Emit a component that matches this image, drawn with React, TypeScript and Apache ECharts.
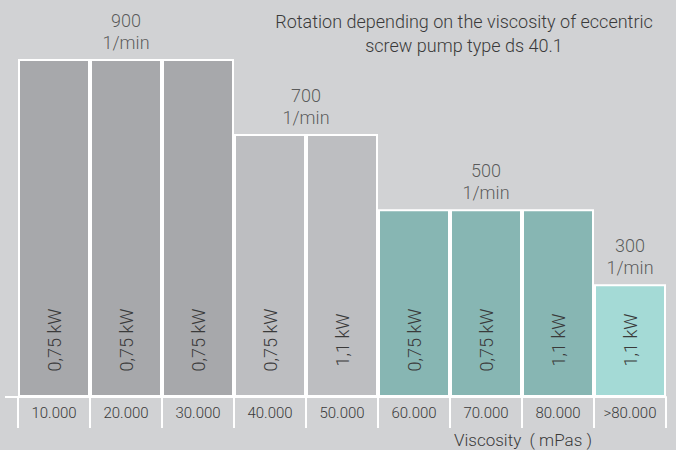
import React, { useEffect, useRef } from "react";
import * as echarts from "echarts";

const categories = ["10.000", "20.000", "30.000", "40.000", "50.000", "60.000", "70.000", "80.000", ">80.000"];
const rotation = [900, 900, 900, 700, 700, 500, 500, 500, 300];
const power = ["0,75 kW", "0,75 kW", "0,75 kW", "0,75 kW", "1,1 kW", "0,75 kW", "0,75 kW", "1,1 kW", "1,1 kW"];
const groupSpeeds = [900, 700, 500, 300];
const groupFirst = [0, 3, 5, 8];
const groupLast = [2, 4, 7, 8];

const titleText = "Rotation depending on the viscosity of eccentric\nscrew pump type ds 40.1";
const axisName = "Viscosity  ( mPas )";

const colorBySpeed: Record<number, string> = {
  900: "#a7a8ab",
  700: "#bdbec1",
  500: "#87b6b3",
  300: "#a4dad6",
};

const FONT = "Roboto";
const WEIGHT = 300;
const TEXT = "#3a3a3a";

export default function App() {
  const ref = useRef<HTMLDivElement>(null);
  useEffect(() => {
    document.body.style.margin = "0";
    const chart = echarts.init(ref.current!, undefined, { renderer: "svg" });
    const groupData = groupSpeeds.map((s, i) => [(groupFirst[i] + groupLast[i] + 1) / 2, s]);
    chart.setOption({
      animation: false,
      backgroundColor: "#d1d2d4",
      textStyle: { fontFamily: FONT, fontWeight: WEIGHT },
      title: [
        {
          text: titleText,
          left: 464,
          top: 9,
          padding: 0,
          textAlign: "center",
          textStyle: { fontFamily: FONT, fontSize: 18, fontWeight: WEIGHT, color: TEXT, lineHeight: 24, align: "center" },
        },
        {
          text: axisName,
          left: 523,
          top: 430,
          padding: 0,
          textAlign: "center",
          textStyle: { fontFamily: FONT, fontSize: 17, fontWeight: WEIGHT, color: TEXT, lineHeight: 20 },
        },
      ],
      grid: { left: 18, right: 10, top: 59, bottom: 53 },
      xAxis: [
        {
          type: "category",
          data: categories,
          boundaryGap: true,
          axisLine: { show: true, lineStyle: { color: "#ffffff", width: 2 } },
          axisTick: { show: true, interval: 0, length: 31, lineStyle: { color: "#ffffff", width: 2 } },
          axisLabel: { interval: 0, margin: 8, fontSize: 15, color: TEXT, fontFamily: FONT, fontWeight: WEIGHT },
          splitLine: { show: false },
          z: 5,
        },
        {
          type: "value",
          min: 0,
          max: categories.length,
          show: false,
        },
      ],
      yAxis: {
        type: "value",
        min: 0,
        max: 900,
        show: false,
        splitLine: { show: false },
      },
      graphic: [
        {
          type: "line",
          shape: { x1: 5, y1: 397, x2: 19, y2: 397 },
          style: { stroke: "#ffffff", lineWidth: 2 },
          z: 10,
        },
      ],
      series: [
        {
          type: "bar",
          xAxisIndex: 0,
          yAxisIndex: 0,
          barWidth: "100%",
          barCategoryGap: 0,
          data: rotation.map((v) => ({ value: v, itemStyle: { color: colorBySpeed[v] } })),
          itemStyle: { borderColor: "#ffffff", borderWidth: 2 },
          label: {
            show: true,
            position: "insideBottom",
            distance: 57,
            rotate: 90,
            align: "center",
            verticalAlign: "middle",
            fontSize: 18,
            color: TEXT,
            fontFamily: FONT,
            fontWeight: WEIGHT,
            formatter: (p: any) => power[p.dataIndex],
          },
        },
        {
          type: "scatter",
          xAxisIndex: 1,
          yAxisIndex: 0,
          symbolSize: 0,
          clip: false,
          data: groupData,
          label: {
            show: true,
            position: "top",
            distance: 6,
            fontSize: 18,
            lineHeight: 22,
            align: "center",
            color: TEXT,
            fontFamily: FONT,
            fontWeight: WEIGHT,
            formatter: (p: any) => `${p.value[1]}\n1/min`,
          },
        },
      ],
    });
    return () => chart.dispose();
  }, []);
  return <div ref={ref} style={{ position: "absolute", left: 0, top: 0, width: 676, height: 450 }} />;
}
